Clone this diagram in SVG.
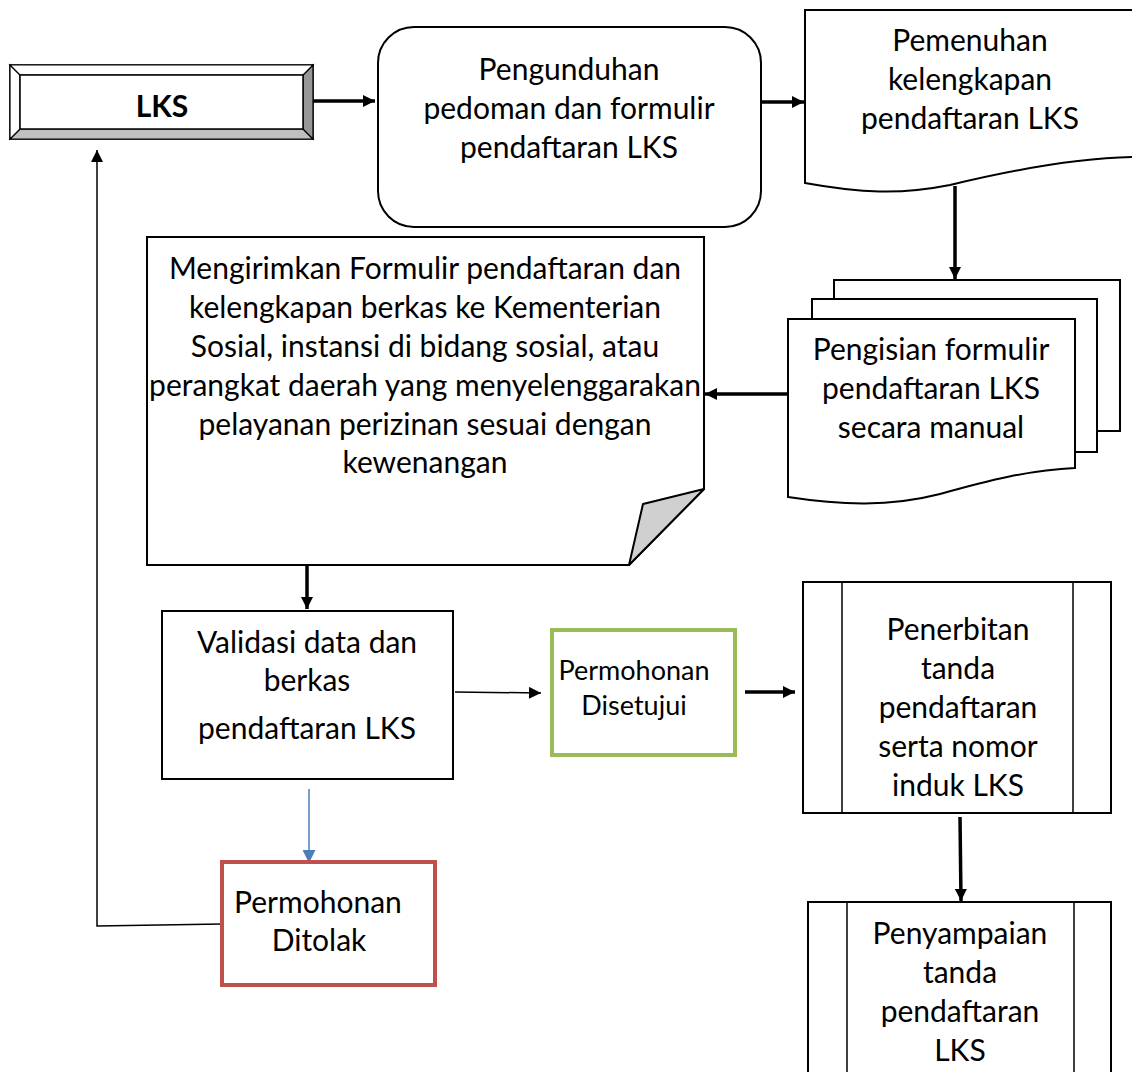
<svg xmlns="http://www.w3.org/2000/svg" width="1132" height="1072" viewBox="0 0 1132 1072">
<style>
.t{font-family:Lato,"Open Sans","Liberation Sans",sans-serif;font-size:30px;fill:#000;text-anchor:middle}
.s{font-size:27px}
.b{font-weight:bold;font-size:30px}
.box{fill:#fff;stroke:#000;stroke-width:2}
.thick{stroke:#000;stroke-width:3.5;fill:none}
.thin{stroke:#000;stroke-width:1.5;fill:none}
</style>
<defs>
<marker id="ah" viewBox="0 0 10 10" refX="10" refY="5" markerWidth="13" markerHeight="12" markerUnits="userSpaceOnUse" orient="auto"><path d="M0,0L10,5L0,10z" fill="#000"/></marker>
<marker id="ahb" viewBox="0 0 10 10" refX="10" refY="5" markerWidth="14" markerHeight="13" markerUnits="userSpaceOnUse" orient="auto"><path d="M0,0L10,5L0,10z" fill="#4a7ebb"/></marker>
</defs>
<rect width="1132" height="1072" fill="#fff"/>
<g id="connectors">
<line class="thick" x1="313" y1="101" x2="375" y2="101" marker-end="url(#ah)"/>
<line class="thick" x1="762" y1="102" x2="804" y2="102" marker-end="url(#ah)"/>
<line class="thick" x1="955" y1="186" x2="955" y2="279" marker-end="url(#ah)"/>
<line class="thick" x1="788" y1="394" x2="705" y2="394" marker-end="url(#ah)"/>
<line class="thick" x1="307" y1="565" x2="307" y2="609" marker-end="url(#ah)"/>
<line class="thin" x1="455" y1="692" x2="541" y2="693" marker-end="url(#ah)"/>
<line class="thick" x1="745" y1="692" x2="795" y2="692" marker-end="url(#ah)"/>
<line class="thick" x1="960" y1="817" x2="961" y2="901" marker-end="url(#ah)"/>
<line x1="309" y1="789" x2="309" y2="863" stroke="#4a7ebb" stroke-width="1.5" marker-end="url(#ahb)"/>
<polyline class="thin" points="222,924 97,926 97,150" marker-end="url(#ah)"/>
</g>
<g id="lks">
<rect x="10" y="65" width="303" height="74" fill="#fff" stroke="#000" stroke-width="1.5"/>
<polygon points="10,139 20,129 303,129 313,139" fill="#c0c0c0" stroke="#000" stroke-width="1.2"/>
<polygon points="313,65 303,75 303,129 313,139" fill="#969696" stroke="#000" stroke-width="1.2"/>
<polygon points="10,65 20,75 20,129 10,139" fill="#fff" stroke="#000" stroke-width="1.2"/>
<polygon points="10,65 313,65 303,75 20,75" fill="#fff" stroke="#000" stroke-width="1.2"/>
<rect x="20" y="75" width="283" height="54" fill="#fff" stroke="#000" stroke-width="1.5"/>
<text class="t b" x="162" y="117">LKS</text>
</g>
<g id="pengunduhan">
<rect class="box" x="378" y="27" width="383" height="200" rx="36"/>
<text class="t" x="569" y="80">Pengunduhan</text>
<text class="t" x="569" y="119">pedoman dan formulir</text>
<text class="t" x="569" y="158">pendaftaran LKS</text>
</g>
<g id="pemenuhan">
<path class="box" d="M1134,10 L805,10 L805,183 C860,193 900,195 950,185 C1020,168 1080,158 1134,157"/>
<text class="t" x="970" y="51">Pemenuhan</text>
<text class="t" x="970" y="90">kelengkapan</text>
<text class="t" x="970" y="129">pendaftaran LKS</text>
</g>
<g id="pengisian">
<rect class="box" x="834" y="280" width="286" height="151"/>
<rect class="box" x="812" y="299" width="285" height="153"/>
<path class="box" d="M788,319 L1075,319 L1075,468 C1030,470 990,480 940,494 C890,507 840,505 788,497 Z"/>
<text class="t" x="931" y="360">Pengisian formulir</text>
<text class="t" x="931" y="399">pendaftaran LKS</text>
<text class="t" x="931" y="438">secara manual</text>
</g>
<g id="mengirimkan">
<path class="box" d="M147,237 L704,237 L704,489 L629,565 L147,565 Z"/>
<polygon points="704,489 643,504 629,565" fill="#d0d0d0" stroke="#000" stroke-width="2" stroke-linejoin="round"/>
<text class="t" x="425" y="279">Mengirimkan Formulir pendaftaran dan</text>
<text class="t" x="425" y="318">kelengkapan berkas ke Kementerian</text>
<text class="t" x="425" y="357">Sosial, instansi di bidang sosial, atau</text>
<text class="t" x="425" y="396">perangkat daerah yang menyelenggarakan</text>
<text class="t" x="425" y="435">pelayanan perizinan sesuai dengan</text>
<text class="t" x="425" y="473">kewenangan</text>
</g>
<g id="validasi">
<rect class="box" x="162" y="611" width="291" height="168"/>
<text class="t" x="307" y="653">Validasi data dan</text>
<text class="t" x="307" y="691">berkas</text>
<text class="t" x="307" y="739">pendaftaran LKS</text>
</g>
<g id="disetujui">
<rect x="552" y="630" width="183" height="125" fill="#fff" stroke="#9bbb59" stroke-width="4"/>
<text class="t s" x="634" y="680">Permohonan</text>
<text class="t s" x="634" y="715">Disetujui</text>
</g>
<g id="penerbitan">
<rect class="box" x="803" y="582" width="308" height="231"/>
<line class="thin" x1="842" y1="582" x2="842" y2="813"/>
<line class="thin" x1="1073" y1="582" x2="1073" y2="813"/>
<text class="t" x="958" y="640">Penerbitan</text>
<text class="t" x="958" y="679">tanda</text>
<text class="t" x="958" y="718">pendaftaran</text>
<text class="t" x="958" y="757">serta nomor</text>
<text class="t" x="958" y="796">induk LKS</text>
</g>
<g id="penyampaian">
<rect class="box" x="808" y="902" width="303" height="190"/>
<line class="thin" x1="847" y1="902" x2="847" y2="1072"/>
<line class="thin" x1="1074" y1="902" x2="1074" y2="1072"/>
<text class="t" x="960" y="944">Penyampaian</text>
<text class="t" x="960" y="983">tanda</text>
<text class="t" x="960" y="1022">pendaftaran</text>
<text class="t" x="960" y="1061">LKS</text>
</g>
<g id="ditolak">
<rect x="222" y="862" width="213" height="123" fill="#fff" stroke="#c0504d" stroke-width="4"/>
<text class="t" x="234" y="913" style="text-anchor:start">Permohonan</text>
<text class="t" x="319" y="951">Ditolak</text>
</g>
</svg>
